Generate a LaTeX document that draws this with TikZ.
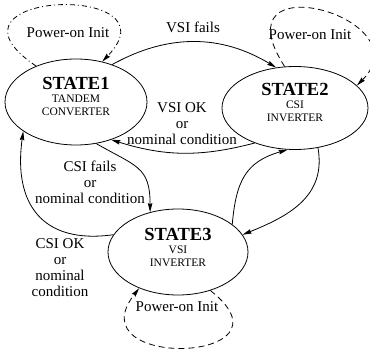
\documentclass[tikz,border=0pt]{standalone}
\usepackage{fontspec}
\setmainfont{Liberation Serif}
\usetikzlibrary{topaths}
\usetikzlibrary{shapes.geometric, arrows.meta}
\newcommand{\sttitle}[1]{{\fontsize{18.5}{20}\selectfont\bfseries #1}}
\tikzset{
  st_node/.style = {ellipse, draw=black, line width=0.8pt, inner sep=0pt,
    align=center, font=\fontsize{11.5}{13}\selectfont},% etat
  lb_text/.style = {align=center, inner sep=0pt,
    font=\fontsize{15}{16}\selectfont},% texte des transitions
  tr_arrow/.style = {line width=0.8pt,
    -{Stealth[length=9pt,width=4.5pt,inset=1pt]}},% transition
  init_dd/.style = {tr_arrow, dash pattern=on 5pt off 3pt on 1pt off 3pt},% power-on, tiret-point
  init_d/.style = {tr_arrow, dash pattern=on 6pt off 4pt}% power-on, tirets
}
\begin{document}
\begin{tikzpicture}[x=1pt, y=1pt]
\useasboundingbox (0,0) rectangle (370,351);

\node[st_node, minimum width=142pt, minimum height=86pt] (s1) at (76,249)
	{\sttitle{STATE1}\\TANDEM\\CONVERTER\rule[-12pt]{0pt}{0pt}};
\node[st_node, minimum width=146pt, minimum height=83pt] (s2) at (295,243)
	{\sttitle{STATE2}\\CSI\\INVERTER\rule[-12pt]{0pt}{0pt}};
\node[st_node, minimum width=140pt, minimum height=86pt] (s3) at (178,99)
	{\sttitle{STATE3}\\VSI\\INVERTER\rule[-10pt]{0pt}{0pt}};

\node[lb_text] (p1) at (68,318) {Power-on Init};
\node[lb_text] (p2) at (310,316) {Power-on Init};
\node[lb_text] (p3) at (177,44) {Power-on Init};
\node[lb_text] (l_vsif) at (193,324) {VSI fails};
\node[lb_text] (l_vsiok) at (182,227) {VSI OK\\or\\nominal condition};
\node[lb_text] (l_csif) at (90,169) {CSI fails\\or\\nominal condition};
\node[lb_text] (l_csiok) at (60,83) {CSI OK\\or\\nominal\\condition};

\draw[init_dd] (s1.138) to[out=146,in=46,out distance=134pt,in distance=112pt] (s1.57);
\draw[init_d] (s2.104) to[out=123,in=45,out distance=127pt,in distance=96pt] (s2.20);
\draw[init_d] (s3.310) to[out=-38,in=232,out distance=118pt,in distance=105pt] (s3.223);

\draw[tr_arrow, bend left=30] (s1.46) to (s2.115);
\draw[tr_arrow, bend left=16] (s2.221) to (s1.313);
\draw[tr_arrow] (s1.296) to[out=-30,in=90,looseness=1.35] (s3.125);
\draw[tr_arrow] (s3.165) to[out=188,in=262,looseness=1.35] (s1.209);
\draw[tr_arrow] (s2.300) to[out=-80,in=22,looseness=1.1] (s3.15);
\draw[tr_arrow] (s3.27) to[out=85,in=196,looseness=1.2] (s2.260);
\end{tikzpicture}
\end{document}
